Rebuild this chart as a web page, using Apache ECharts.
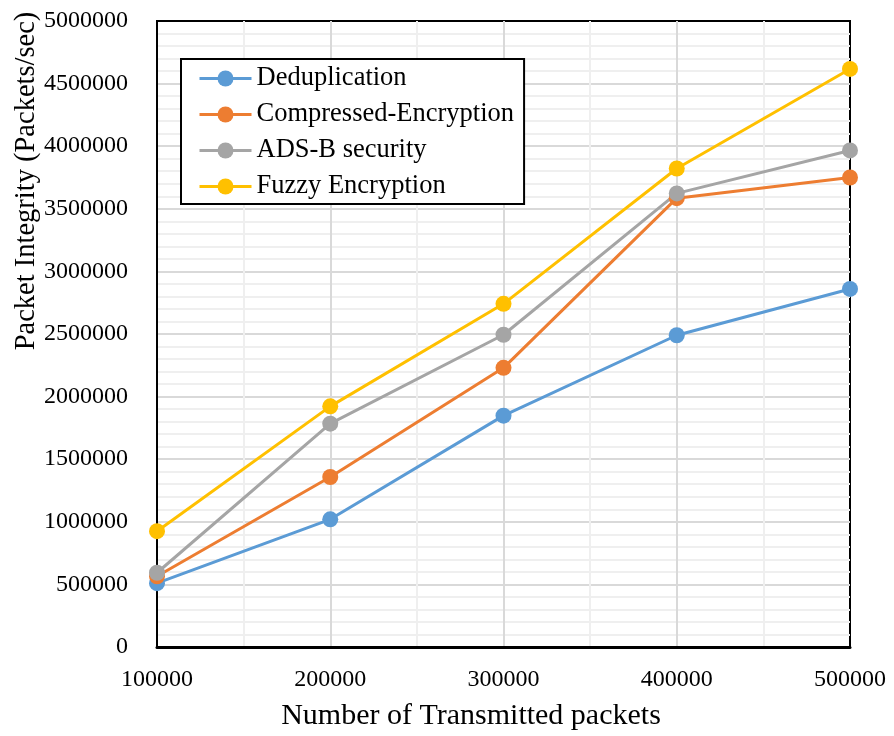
<!DOCTYPE html>
<html>
<head>
<meta charset="utf-8">
<script src="https://cdn.jsdelivr.net/npm/echarts@6/dist/echarts.min.js"></script>
<style>
  html, body { margin: 0; padding: 0; background: #fff; }
  #chart { width: 894px; height: 736px; }
</style>
</head>
<body>
<div id="chart"></div>
<script>
// Number of transmitted packets (x values)
const packets = [100000, 200000, 300000, 400000, 500000];

// Packet integrity (packets/sec) per scheme
const deduplication = [510000, 1020000, 1848000, 2490000, 2860000];
const compressedEncryption = [565000, 1358000, 2230000, 3585000, 3750000];
const adsbSecurity = [593000, 1784000, 2494000, 3623000, 3966000];
const fuzzyEncryption = [925000, 1922000, 2741000, 3822000, 4617000];

const seriesNames = ['Deduplication', 'Compressed-Encryption', 'ADS-B security', 'Fuzzy Encryption'];
const seriesColors = ['#5B9BD5', '#ED7D31', '#A5A5A5', '#FFC000'];
const seriesValues = [deduplication, compressedEncryption, adsbSecurity, fuzzyEncryption];

const FONT = 'Liberation Serif, Times New Roman, serif';

const chart = echarts.init(document.getElementById('chart'), null, { renderer: 'canvas' });

const series = seriesNames.map((name, i) => ({
  name: name,
  type: 'line',
  data: packets.map((x, j) => [x, seriesValues[i][j]]),
  symbol: 'circle',
  symbolSize: 16,
  lineStyle: { color: seriesColors[i], width: 3 },
  itemStyle: { color: seriesColors[i] },
  z: 5
}));

// Plain integers on the axes (no thousands separators)
const plain = v => String(v);

chart.setOption({
  backgroundColor: '#fff',
  animation: false,
  grid: {
    left: 157, right: 44, top: 21, bottom: 89,
    show: true,
    borderColor: '#000',
    borderWidth: 2,
    backgroundColor: 'transparent'
  },
  legend: {
    orient: 'vertical',
    left: 181,
    top: 59,
    data: seriesNames,
    itemWidth: 52,
    itemHeight: 20,
    itemGap: 9,
    padding: [6, 10, 4, 17],
    backgroundColor: '#fff',
    borderColor: '#000',
    borderWidth: 2,
    borderRadius: 0,
    lineStyle: { width: 3 },
    textStyle: { fontFamily: FONT, fontSize: 26.5, color: '#000', lineHeight: 26 }
  },
  xAxis: {
    type: 'value',
    min: 100000,
    max: 500000,
    interval: 100000,
    axisLine: { show: true, lineStyle: { color: '#000', width: 3 } },
    axisTick: { show: false },
    axisLabel: { fontFamily: FONT, fontSize: 24, color: '#000', margin: 21, formatter: plain },
    splitLine: { show: true, showMinLine: false, showMaxLine: false, lineStyle: { color: '#d9d9d9', width: 2 } },
    minorTick: { show: false, splitNumber: 2 },
    minorSplitLine: { show: true, lineStyle: { color: '#efefef', width: 2 } }
  },
  yAxis: {
    type: 'value',
    min: 0,
    max: 5000000,
    interval: 500000,
    axisLine: { show: true, lineStyle: { color: '#000', width: 2 } },
    axisTick: { show: false },
    axisLabel: { fontFamily: FONT, fontSize: 24, color: '#000', margin: 29, formatter: plain },
    splitLine: { show: true, showMinLine: false, showMaxLine: false, lineStyle: { color: '#d9d9d9', width: 2 } },
    minorTick: { show: false, splitNumber: 5 },
    minorSplitLine: { show: true, lineStyle: { color: '#efefef', width: 2 } }
  },
  graphic: [
    {
      type: 'text',
      x: 27, y: 181,
      rotation: Math.PI / 2,
      style: {
        text: 'Packet Integrity (Packets/sec)',
        font: '28.5px ' + FONT,
        fill: '#000',
        textAlign: 'center',
        textVerticalAlign: 'middle'
      }
    },
    {
      type: 'text',
      x: 471, y: 716,
      style: {
        text: 'Number of Transmitted packets',
        font: '30px ' + FONT,
        fill: '#000',
        textAlign: 'center',
        textVerticalAlign: 'middle'
      }
    }
  ],
  series: series
});
</script>
</body>
</html>
